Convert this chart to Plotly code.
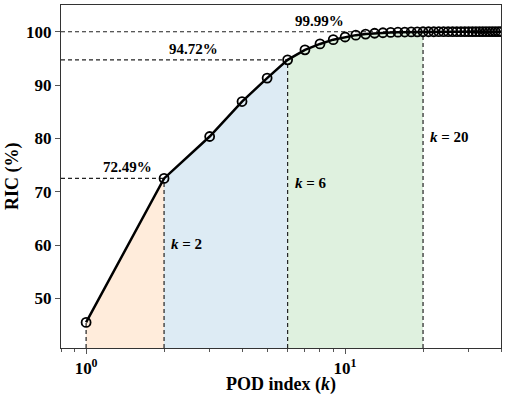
import numpy as np
import plotly.graph_objects as go

# POD index and cumulative relative information content (%)
pod_k = list(range(1, 41))
ric = [45.5, 72.49, 80.35, 86.9, 91.3, 94.72, 96.6, 97.7, 98.5, 99.0,
       99.35, 99.55, 99.7, 99.8, 99.86, 99.9, 99.93, 99.95, 99.97, 99.99,
       99.99, 99.99, 100.0, 100.0, 100.0, 100.0, 100.0, 100.0, 100.0, 100.0,
       100.0, 100.0, 100.0, 100.0, 100.0, 100.0, 100.0, 100.0, 100.0, 100.0]

# truncation indices and their labels
cut_k = [2, 6, 20]
cut_pct = ["72.49%", "94.72%", "99.99%"]
fill_colors = ["#FFECDB", "#DDEBF4", "#DFF1DF"]

x_min, x_max = 0.8, 40.0
y_min, y_max = 40.7, 105.0

font_family = "Liberation Serif, DejaVu Serif, serif"

fig = go.Figure()

# shaded areas under the curve
starts = [1] + cut_k[:-1]
for s, e, c in zip(starts, cut_k, fill_colors):
    fig.add_trace(go.Scatter(
        x=pod_k[s - 1:e], y=ric[s - 1:e], mode="lines",
        line=dict(width=0), fill="tozeroy", fillcolor=c,
        hoverinfo="skip", showlegend=False,
    ))

dash_line = dict(color="#222222", width=1.2, dash="4px,3px")

# vertical dashed line below the first point
fig.add_trace(go.Scatter(x=[pod_k[0], pod_k[0]], y=[y_min, ric[0]], mode="lines",
                         line=dash_line, showlegend=False, hoverinfo="skip"))

for k in cut_k:
    v = ric[k - 1]
    fig.add_trace(go.Scatter(x=[x_min, k], y=[v, v], mode="lines",
                             line=dash_line, showlegend=False, hoverinfo="skip"))
    fig.add_trace(go.Scatter(x=[k, k], y=[y_min, v], mode="lines",
                             line=dash_line, showlegend=False, hoverinfo="skip"))

# main curve
fig.add_trace(go.Scatter(
    x=pod_k, y=ric, mode="lines+markers",
    line=dict(color="black", width=2.5),
    marker=dict(symbol="circle-open", size=9, color="black", line=dict(width=1.8)),
    showlegend=False,
))

# percentage labels above the horizontal lines
pct_x = [1.45, 2.6, 8.0]
for px_, k, t in zip(pct_x, cut_k, cut_pct):
    fig.add_annotation(x=np.log10(px_), y=ric[k - 1], text="<b>%s</b>" % t,
                       showarrow=False, yshift=11,
                       font=dict(size=15, family=font_family, color="black"))

# k = ... labels beside the vertical lines
k_label_y = [60.2, 71.6, 80.3]
for k, yy in zip(cut_k, k_label_y):
    fig.add_annotation(x=np.log10(k), y=yy, text="<b><i>k</i> = %d</b>" % k,
                       showarrow=False, xanchor="left", xshift=5,
                       font=dict(size=15, family=font_family, color="black"))

# axis titles
fig.add_annotation(xref="paper", yref="paper", x=0.5, y=-0.07, yanchor="top",
                   text="<b>POD index (<i>k</i>)</b>", showarrow=False,
                   font=dict(size=18, family=font_family, color="black"))
fig.add_annotation(xref="paper", yref="paper", x=-0.11, y=0.5, xanchor="center",
                   text="<b>RIC (%)</b>", textangle=-90, showarrow=False,
                   font=dict(size=18, family=font_family, color="black"))

minor_vals = [0.8, 0.9] + list(range(2, 10)) + [20, 30, 40]

fig.update_layout(
    width=507, height=396,
    margin=dict(l=61, r=6, t=5, b=48),
    plot_bgcolor="white", paper_bgcolor="white",
    font=dict(family=font_family, size=17, color="black"),
    xaxis=dict(
        type="log", range=[np.log10(x_min), np.log10(x_max)], automargin=False,
        tickvals=[1, 10], ticktext=["<b>10<sup>0</sup></b>", "<b>10<sup>1</sup></b>"],
        ticks="outside", ticklen=5, tickwidth=1, tickcolor="#555",
        minor=dict(tickvals=minor_vals, ticks="outside", ticklen=3, tickcolor="#555"),
        showgrid=False, zeroline=False, ticklabelstandoff=0,
        showline=True, linecolor="#333", linewidth=1, mirror=True,
    ),
    yaxis=dict(
        range=[y_min, y_max], automargin=False,
        tickvals=[50, 60, 70, 80, 90, 100],
        ticktext=["<b>%d</b>" % v for v in [50, 60, 70, 80, 90, 100]],
        ticks="outside", ticklen=5, tickwidth=1, tickcolor="#555",
        showgrid=False, zeroline=False,
        showline=True, linecolor="#333", linewidth=1, mirror=True,
    ),
)

fig.write_html("out.html", config={"displayModeBar": False},
               post_script="document.body.style.margin='0';")
